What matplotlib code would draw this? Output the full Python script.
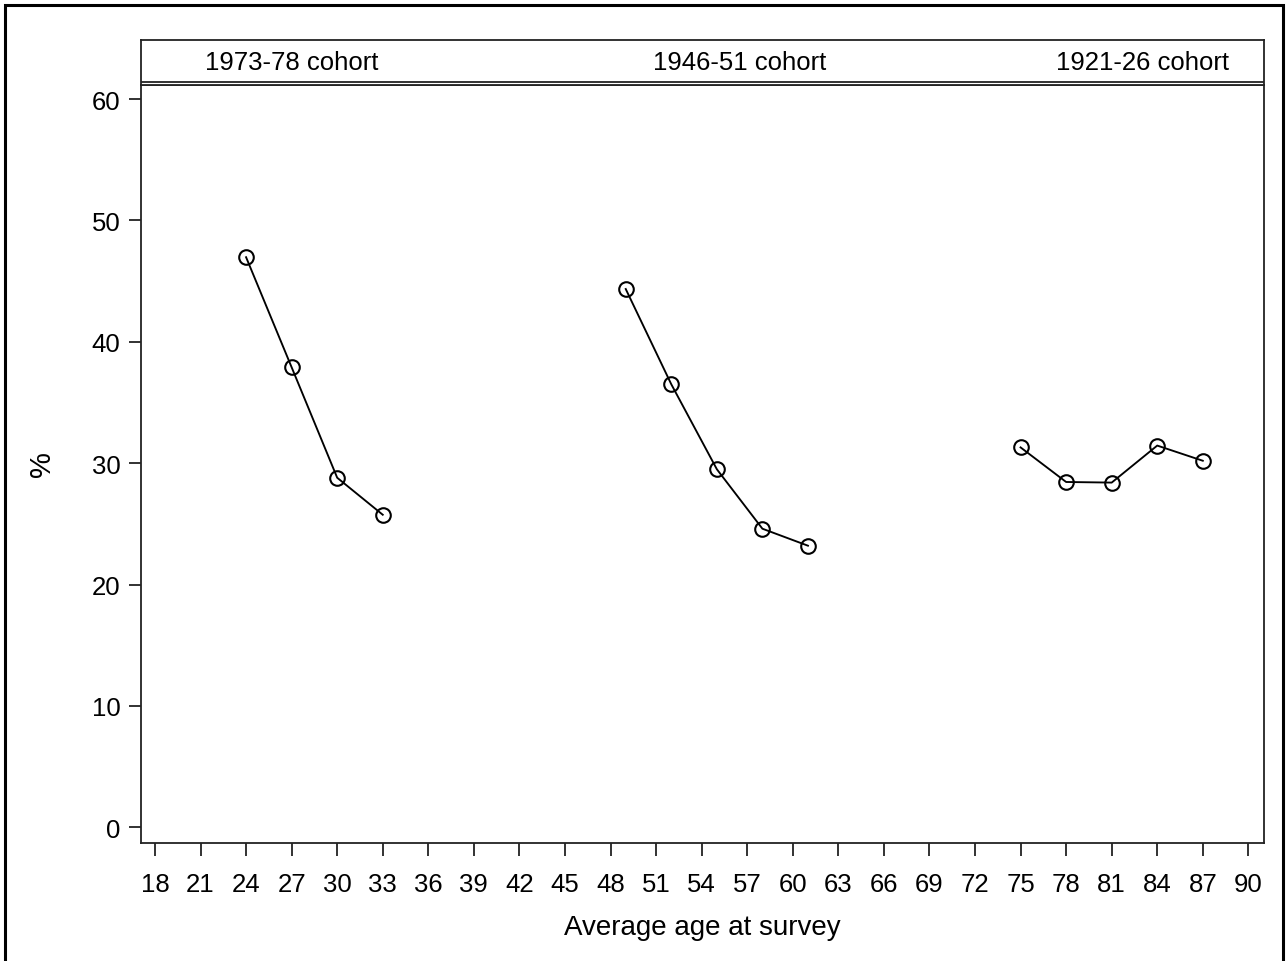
import matplotlib
matplotlib.use("Agg")
import matplotlib.pyplot as plt
from matplotlib.patches import Rectangle

plt.rcParams['font.family'] = ['Liberation Sans', 'DejaVu Sans']

# Percent by average age at survey, one series per birth cohort
cohort_labels = ["1973-78 cohort", "1946-51 cohort", "1921-26 cohort"]
ages_1973 = [24, 27, 30, 33]
pct_1973 = [46.97, 37.9, 28.8, 25.75]
ages_1946 = [49, 52, 55, 58, 61]
pct_1946 = [44.35, 36.5, 29.5, 24.6, 23.2]
ages_1921 = [75, 78, 81, 84, 87]
pct_1921 = [31.3, 28.45, 28.4, 31.45, 30.2]
x_ticks = list(range(18, 91, 3))
y_ticks = [0, 10, 20, 30, 40, 50, 60]
header_x = [27.0, 56.5, 83.0]

W, H = 1286, 962
fig = plt.figure(figsize=(W / 100, H / 100), dpi=100)

# outer frame
fig.patches.append(Rectangle((4.5 / W, -0.01), (1283 - 4.5) / W, (H - 5.5) / H + 0.01,
                             transform=fig.transFigure, fill=False,
                             edgecolor='black', linewidth=2.2))

left, right = 141.3 / W, 1264.3 / W
bottom, top = (H - 844.3) / H, (H - 85.5) / H
head_top = (H - 41) / H

ax = fig.add_axes([left, bottom, right - left, top - bottom])
hax = fig.add_axes([left, top, right - left, head_top - top])

spine_col = '#222222'
for a in (ax, hax):
    for s in a.spines.values():
        s.set_color(spine_col)
        s.set_linewidth(1.3)

line_kw = dict(color='black', linewidth=1.35, marker='o', markersize=10.5,
               markerfacecolor='none', markeredgecolor='black', markeredgewidth=1.5)
ax.plot(ages_1973, pct_1973, **line_kw)
ax.plot(ages_1946, pct_1946, **line_kw)
ax.plot(ages_1921, pct_1921, **line_kw)

ax.set_xlim(17.1, 91.05)
ax.set_ylim(-1.32, 61.2)
ax.set_xticks(x_ticks)
ax.set_yticks(y_ticks)
ax.tick_params(axis='both', direction='out', length=9, width=1.3, color=spine_col,
               labelsize=18.5)
ax.tick_params(axis='x', pad=12)
ax.tick_params(axis='y', pad=6)

ax_h_px = 844.3 - 85.5
ax_w_px = 1264.3 - 141.3
ax.set_xlabel("Average age at survey", fontsize=20)
ax.xaxis.set_label_coords(0.5, -(928 - 844.3) / ax_h_px)
ax.xaxis.label.set_va('center')
ax.set_ylabel("%", fontsize=21)
ax.yaxis.set_label_coords(-(141.3 - 42) / ax_w_px, (844.3 - 464) / ax_h_px)
ax.yaxis.label.set_va('center')

# cohort header strip
hax.set_xlim(ax.get_xlim())
hax.set_ylim(0, 1)
hax.set_xticks([])
hax.set_yticks([])
for label, xpos in zip(cohort_labels, header_x):
    hax.text(xpos, 0.5, label, ha='center', va='center', fontsize=18.5)
# double rule under the header
hax.axhline(0.045, color=spine_col, linewidth=1.3)

fig.savefig("out.png", dpi=100)
